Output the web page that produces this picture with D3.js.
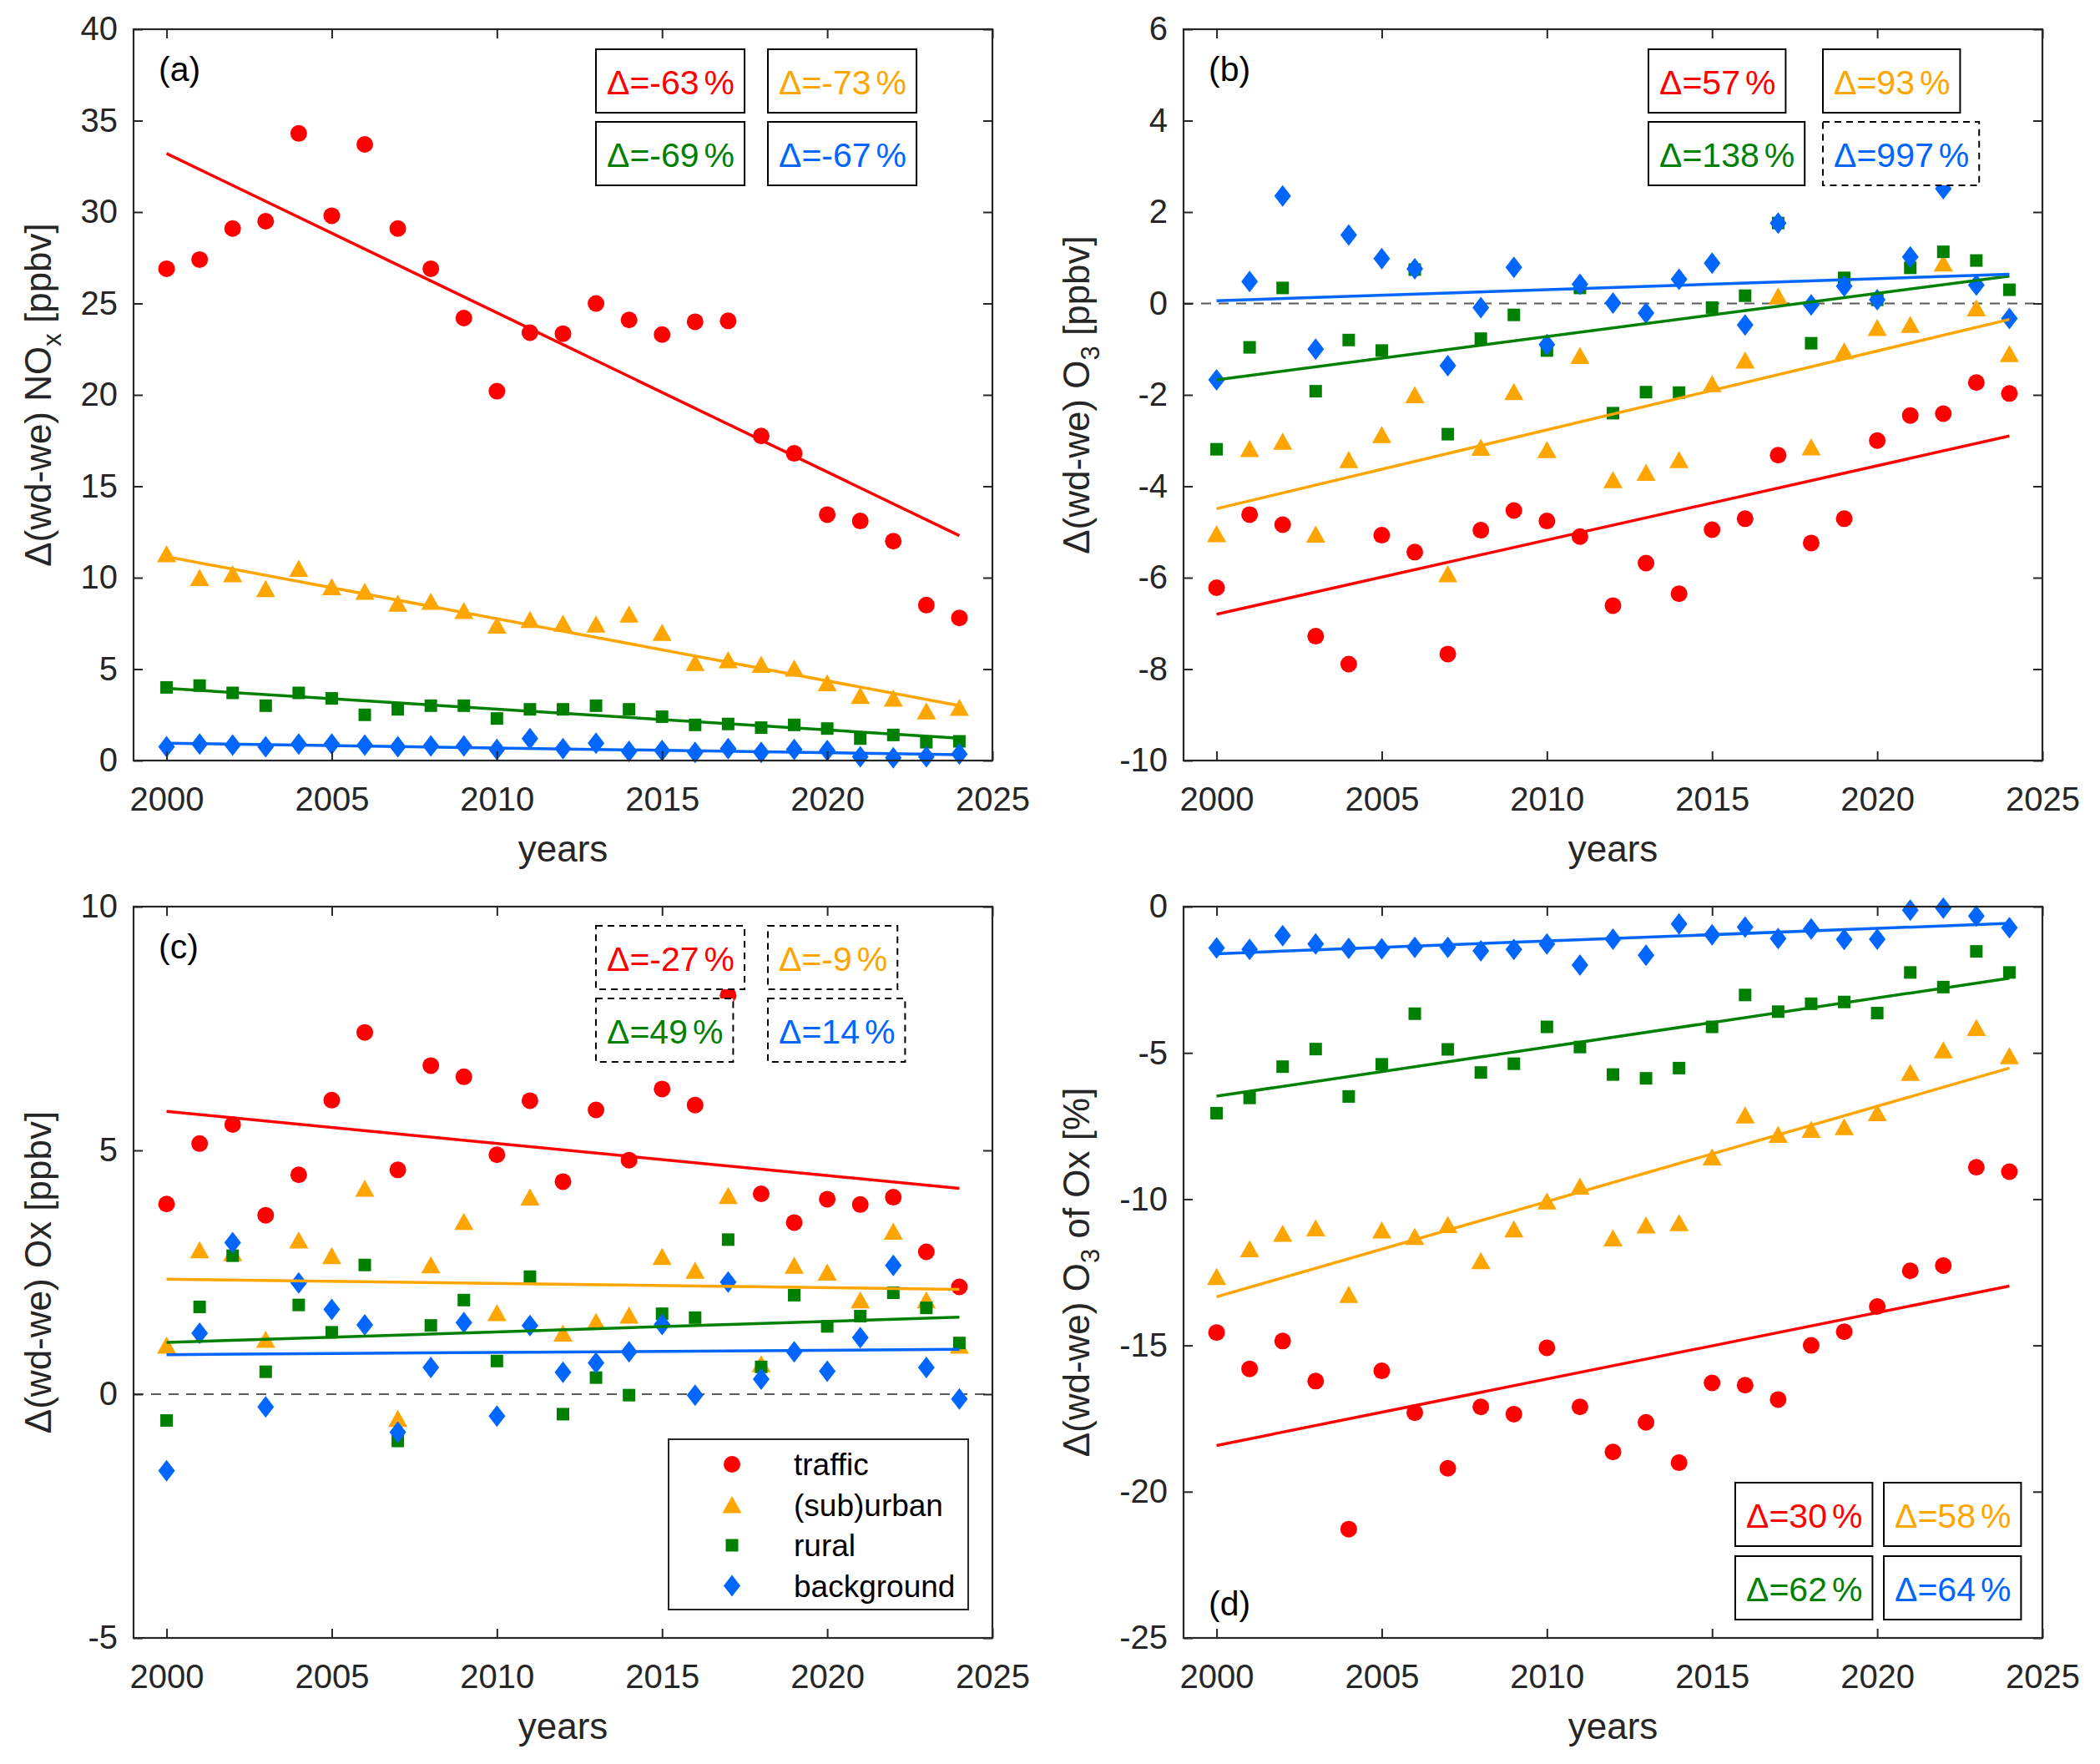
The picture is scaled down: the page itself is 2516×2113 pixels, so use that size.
<!DOCTYPE html>
<html>
<head>
<meta charset="utf-8">
<script src="https://cdn.jsdelivr.net/npm/d3@7"></script>
<style>
body { margin: 0; background: #fff; }
text { font-family: "Liberation Sans", Arial, Helvetica, sans-serif; }
</style>
</head>
<body>
<svg id="fig" width="2516" height="2113"></svg>
<script>
// ---- data ----
const years = [2000, 2001, 2002, 2003, 2004, 2005, 2006, 2007, 2008, 2009, 2010, 2011, 2012,
               2013, 2014, 2015, 2016, 2017, 2018, 2019, 2020, 2021, 2022, 2023, 2024];
const seriesNames = ['traffic', '(sub)urban', 'rural', 'background'];
const xTicks = [2000, 2005, 2010, 2015, 2020, 2025];

// (a) NOx [ppbv]
const noxTraffic = [26.9, 27.4, 29.1, 29.5, 34.3, 29.8, 33.7, 29.1, 26.9, 24.2, 20.2, 23.4, 23.35,
                    25.0, 24.1, 23.3, 24.0, 24.05, 17.75, 16.8, 13.45, 13.1, 12.0, 8.5, 7.8];
const noxUrban = [11.3, 10.0, 10.2, 9.4, 10.5, 9.5, 9.25, 8.6, 8.7, 8.2, 7.4, 7.7, 7.5,
                  7.45, 8.0, 7.0, 5.35, 5.5, 5.25, 5.05, 4.25, 3.55, 3.4, 2.7, 2.9];
const noxRural = [4.0, 4.1, 3.7, 3.0, 3.7, 3.4, 2.5, 2.8, 3.0, 3.0, 2.3, 2.8, 2.8,
                  3.0, 2.8, 2.4, 1.95, 2.0, 1.8, 1.95, 1.75, 1.2, 1.4, 1.0, 1.05];
const noxBack = [0.75, 0.9, 0.85, 0.75, 0.9, 0.9, 0.85, 0.75, 0.8, 0.8, 0.6, 1.2, 0.65,
                 0.95, 0.5, 0.55, 0.45, 0.65, 0.45, 0.6, 0.55, 0.2, 0.15, 0.2, 0.35];
const noxTrend = [[33.2, 12.3], [11.15, 3.0], [3.95, 1.22], [0.95, 0.32]];   // value at 2000, 2024
const noxDelta = [-63, -73, -69, -67];
const noxDashed = [false, false, false, false];
const noxTicks = [0, 5, 10, 15, 20, 25, 30, 35, 40];

// (b) O3 [ppbv]
const o3Traffic = [-6.22, -4.62, -4.84, -7.28, -7.89, -5.07, -5.44, -7.67, -4.96, -4.53, -4.76, -5.1, -6.61,
                   -5.68, -6.35, -4.95, -4.71, -3.32, -5.24, -4.71, -3.0, -2.45, -2.41, -1.73, -1.97];
const o3Urban = [-5.04, -3.18, -3.02, -5.05, -3.42, -2.87, -2.0, -5.92, -3.15, -1.93, -3.2, -1.14, -3.86,
                 -3.7, -3.42, -1.76, -1.24, 0.16, -3.14, -1.04, -0.53, -0.46, 0.88, -0.1, -1.1];
const o3Rural = [-3.19, -0.96, 0.34, -1.92, -0.8, -1.03, 0.74, -2.86, -0.77, -0.25, -1.03, 0.34, -2.4,
                 -1.94, -1.95, -0.09, 0.17, 1.76, -0.87, 0.56, 0.08, 0.78, 1.13, 0.94, 0.3];
const o3Back = [-1.67, 0.48, 2.35, -1.0, 1.5, 0.98, 0.76, -1.36, -0.09, 0.79, -0.9, 0.42, 0.01,
                -0.21, 0.53, 0.88, -0.47, 1.76, -0.03, 0.38, 0.08, 1.02, 2.51, 0.4, -0.33];
const o3Trend = [[-6.8, -2.9], [-4.49, -0.35], [-1.67, 0.6], [0.06, 0.64]];
const o3Delta = [57, 93, 138, 997];
const o3Dashed = [false, false, false, true];
const o3Ticks = [-10, -8, -6, -4, -2, 0, 2, 4, 6];

// (c) Ox [ppbv]
const oxTraffic = [3.9, 5.14, 5.53, 3.67, 4.5, 6.03, 7.42, 4.6, 6.74, 6.51, 4.91, 6.02, 4.36,
                   5.83, 4.8, 6.26, 5.93, 8.18, 4.11, 3.52, 4.0, 3.89, 4.04, 2.92, 2.2];
const oxUrban = [1.0, 2.96, 2.9, 1.12, 3.16, 2.84, 4.22, -0.5, 2.65, 3.54, 1.67, 4.04, 1.25,
                 1.49, 1.62, 2.82, 2.54, 4.07, 0.62, 2.64, 2.5, 1.93, 3.34, 1.93, 1.0];
const oxRural = [-0.54, 1.79, 2.84, 0.46, 1.83, 1.27, 2.65, -0.96, 1.41, 1.93, 0.68, 2.41, -0.41,
                 0.34, -0.02, 1.65, 1.57, 3.17, 0.56, 2.03, 1.39, 1.6, 2.08, 1.77, 1.05];
const oxBack = [-1.57, 1.25, 3.11, -0.26, 2.28, 1.74, 1.42, -0.78, 0.55, 1.47, -0.45, 1.41, 0.45,
                0.64, 0.87, 1.43, -0.02, 2.3, 0.31, 0.87, 0.47, 1.16, 2.64, 0.55, -0.1];
const oxTrend = [[5.8, 4.22], [2.36, 2.15], [1.06, 1.58], [0.81, 0.92]];
const oxDelta = [-27, -9, 49, 14];
const oxDashed = [true, true, true, true];
const oxTicks = [-5, 0, 5, 10];

// (d) O3 of Ox [%]
const shareTraffic = [-14.56, -15.8, -14.85, -16.22, -21.28, -15.87, -17.3, -19.2, -17.1, -17.35, -15.08, -17.1, -18.64,
                      -17.63, -19.01, -16.28, -16.36, -16.85, -15.0, -14.53, -13.67, -12.45, -12.27, -8.91, -9.06];
const shareUrban = [-12.65, -11.7, -11.17, -10.99, -13.26, -11.06, -11.28, -10.87, -12.11, -11.02, -10.07, -9.56, -11.33,
                    -10.89, -10.81, -8.56, -7.13, -7.79, -7.62, -7.53, -7.05, -5.67, -4.9, -4.14, -5.1];
const shareRural = [-7.06, -6.54, -5.47, -4.87, -6.49, -5.39, -3.66, -4.88, -5.67, -5.37, -4.11, -4.8, -5.74,
                    -5.87, -5.52, -4.11, -3.02, -3.59, -3.32, -3.26, -3.64, -2.25, -2.75, -1.53, -2.25];
const shareBack = [-1.41, -1.46, -0.99, -1.28, -1.43, -1.44, -1.39, -1.39, -1.51, -1.46, -1.28, -2.0, -1.11,
                   -1.66, -0.59, -0.96, -0.7, -1.09, -0.76, -1.12, -1.11, -0.12, -0.05, -0.32, -0.72];
const shareTrend = [[-18.42, -12.97], [-13.34, -5.52], [-6.48, -2.45], [-1.61, -0.57]];
const shareDelta = [30, 58, 62, 64];
const shareDashed = [false, false, false, false];
const shareTicks = [-25, -20, -15, -10, -5, 0];

// ---- styling / layout ----
const colors = ['#ff0000', '#ffa500', '#008000', '#0066ff'];
const shapes = [
  d3.symbol().type(d3.symbolCircle).size(Math.PI * 10 * 10)(),
  'M0,-10.5L11.5,10L-11.5,10Z',
  'M-7.5,-7.5H7.5V7.5H-7.5Z',
  'M0,-13L10,0L0,13L-10,0Z'
];
const W = 1029, H = 876;
const axisColor = '#262626';
const plain = d => String(d);   // hyphen minus like the original, not U+2212

const panels = [
  { tag: '(a)', left: 160, top: 35, yDomain: [0, 40], yTicks: noxTicks,
    label: ['Δ(wd-we) NO', 'x', ' [ppbv]'],
    series: [noxTraffic, noxUrban, noxRural, noxBack], trend: noxTrend,
    delta: noxDelta, dashed: noxDashed, zero: false,
    boxX: [554, 760], boxY: [24, 111], tagAtBottom: false, legend: false },
  { tag: '(b)', left: 1418, top: 35, yDomain: [-10, 6], yTicks: o3Ticks,
    label: ['Δ(wd-we) O', '3', ' [ppbv]'],
    series: [o3Traffic, o3Urban, o3Rural, o3Back], trend: o3Trend,
    delta: o3Delta, dashed: o3Dashed, zero: true,
    boxX: [557, 766], boxY: [24, 111], tagAtBottom: false, legend: false },
  { tag: '(c)', left: 160, top: 1086, yDomain: [-5, 10], yTicks: oxTicks,
    label: ['Δ(wd-we) Ox [ppbv]'],
    series: [oxTraffic, oxUrban, oxRural, oxBack], trend: oxTrend,
    delta: oxDelta, dashed: oxDashed, zero: true,
    boxX: [554, 760], boxY: [23, 110], tagAtBottom: false, legend: true },
  { tag: '(d)', left: 1418, top: 1086, yDomain: [-25, 0], yTicks: shareTicks,
    label: ['Δ(wd-we) O', '3', ' of Ox [%]'],
    series: [shareTraffic, shareUrban, shareRural, shareBack], trend: shareTrend,
    delta: shareDelta, dashed: shareDashed, zero: false,
    boxX: [661, 839], boxY: [690, 778], tagAtBottom: true, legend: false }
];

const svg = d3.select('#fig');
svg.append('rect').attr('width', 2516).attr('height', 2113).attr('fill', '#fff');

function styleAxis(sel) {
  sel.attr('font-size', 40)
    .attr('font-family', '"Liberation Sans", Arial, sans-serif')
    .attr('color', axisColor);
  sel.select('.domain').remove();
  sel.selectAll('.tick line').attr('stroke-width', 2);
}

panels.forEach(p => {
  const g = svg.append('g').attr('transform', `translate(${p.left},${p.top})`);
  const x = d3.scaleLinear().domain([1999, 2025]).range([0, W]);
  const y = d3.scaleLinear().domain(p.yDomain).range([H, 0]);

  if (p.zero) {
    g.append('line')
      .attr('x1', 0).attr('x2', W).attr('y1', y(0)).attr('y2', y(0))
      .attr('stroke', '#5a5a5a').attr('stroke-width', 1.8).attr('stroke-dasharray', '12,9');
  }

  // markers
  p.series.forEach((vals, i) => {
    g.append('g').selectAll('path').data(vals).join('path')
      .attr('transform', (v, j) => `translate(${x(years[j])},${y(v)})`)
      .attr('d', shapes[i])
      .attr('fill', colors[i]);
  });

  // linear trends
  p.trend.forEach((t, i) => {
    g.append('line')
      .attr('x1', x(years[0])).attr('y1', y(t[0]))
      .attr('x2', x(years[years.length - 1])).attr('y2', y(t[1]))
      .attr('stroke', colors[i]).attr('stroke-width', 3.5);
  });

  // axes (ticks inside, box on)
  g.append('g').attr('transform', `translate(0,${H})`)
    .call(d3.axisBottom(x).tickValues(xTicks).tickFormat(plain)
      .tickSizeInner(-11).tickSizeOuter(0).tickPadding(32))
    .call(styleAxis);
  g.append('g')
    .call(d3.axisTop(x).tickValues(xTicks).tickFormat('').tickSizeInner(-11).tickSizeOuter(0))
    .call(styleAxis);
  const yAxis = g.append('g')
    .call(d3.axisLeft(y).tickValues(p.yTicks).tickFormat(plain)
      .tickSizeInner(-11).tickSizeOuter(0).tickPadding(19))
    .call(styleAxis);
  g.append('g').attr('transform', `translate(${W},0)`)
    .call(d3.axisRight(y).tickValues(p.yTicks).tickFormat('').tickSizeInner(-11).tickSizeOuter(0))
    .call(styleAxis);

  g.append('rect').attr('width', W).attr('height', H)
    .attr('fill', 'none').attr('stroke', axisColor).attr('stroke-width', 2.2);

  // axis labels
  g.append('text')
    .attr('x', W / 2).attr('y', H + 121)
    .attr('text-anchor', 'middle').attr('font-size', 44).attr('fill', axisColor)
    .text('years');

  let maxW = 0;
  yAxis.selectAll('.tick text').each(function () {
    maxW = Math.max(maxW, this.getComputedTextLength());
  });
  const lx = -19 - maxW - 36, ly = H / 2;
  const yl = g.append('text')
    .attr('transform', `translate(${lx},${ly}) rotate(-90)`)
    .attr('text-anchor', 'middle').attr('font-size', 44).attr('fill', axisColor);
  yl.append('tspan').text(p.label[0]);
  if (p.label.length > 1) {
    yl.append('tspan').attr('font-size', 31).attr('dy', 12).text(p.label[1]);
    yl.append('tspan').attr('dy', -12).text(p.label[2]);
  }

  // panel tag
  g.append('text')
    .attr('x', 30).attr('y', p.tagAtBottom ? H - 27 : 62)
    .attr('font-size', 41).attr('fill', '#000')
    .text(p.tag);

  // change boxes
  p.delta.forEach((d, i) => {
    const bx = p.boxX[i % 2], by = p.boxY[Math.floor(i / 2)];
    const box = g.append('rect');
    const t = g.append('text')
      .attr('x', bx + 13).attr('y', by + 54)
      .attr('font-size', 41).attr('fill', colors[i]);
    t.append('tspan').text(`Δ=${d}`);
    t.append('tspan').attr('dx', 6).text('%');
    const tw = t.node().getComputedTextLength() + 6;
    box.attr('x', bx).attr('y', by).attr('width', tw + 25).attr('height', 76)
      .attr('fill', '#fff').attr('stroke', '#000').attr('stroke-width', 2)
      .attr('stroke-dasharray', p.dashed[i] ? '8,6' : null);
  });

  // legend
  if (p.legend) {
    const lg = g.append('g').attr('transform', 'translate(641,638)');
    lg.append('rect').attr('width', 359).attr('height', 204)
      .attr('fill', '#fff').attr('stroke', axisColor).attr('stroke-width', 2);
    seriesNames.forEach((name, i) => {
      const ry = 30 + i * 48.5;
      lg.append('path').attr('transform', `translate(76,${ry})`)
        .attr('d', shapes[i]).attr('fill', colors[i]);
      lg.append('text').attr('x', 150).attr('y', ry + 13)
        .attr('font-size', 37).attr('fill', '#000').text(name);
    });
  }
});
</script>
</body>
</html>
